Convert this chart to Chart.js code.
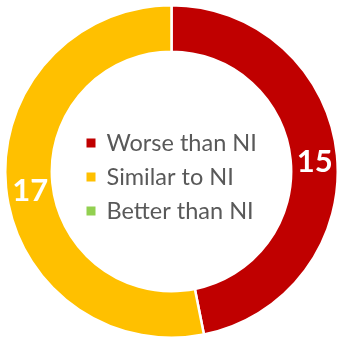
<!DOCTYPE html>
<html><head><meta charset="utf-8">
<script src="https://cdn.jsdelivr.net/npm/chart.js@4/dist/chart.umd.min.js"></script>
<style>html,body{margin:0;padding:0;background:#fff;}#wrap{width:339px;height:343px;position:relative;}</style>
</head><body><div id="wrap"><canvas id="c"></canvas></div>
<script>
const categories = ["Worse than NI", "Similar to NI", "Better than NI"];
const values = [15, 17, 0];
const colors = ["#C00000", "#FFC000", "#92D050"];

const centerLegend = {
  id: 'centerLegend',
  afterDraw(chart) {
    const ctx = chart.ctx;
    const meta = chart.getDatasetMeta(0);
    const arc0 = meta.data[0];
    const cx = arc0.x, cy = arc0.y;
    ctx.save();
    ctx.font = '23.5px Lato, "Open Sans", sans-serif';
    ctx.textBaseline = 'middle';
    ctx.textAlign = 'left';
    const rowH = 34;
    const startY = cy - 29;
    categories.forEach((c, i) => {
      const y = startY + i * rowH;
      ctx.fillStyle = colors[i];
      ctx.fillRect(cx - 85, y - 4, 9, 9);
      ctx.fillStyle = '#595959';
      ctx.fillText(c, cx - 65, y + 1);
    });
    // value labels
    ctx.font = 'bold 31px Lato, "Open Sans", sans-serif';
    ctx.textAlign = 'center';
    ctx.fillStyle = '#FFFFFF';
    meta.data.forEach((arc, i) => {
      if (!values[i]) return;
      const p = arc.tooltipPosition();
      ctx.fillText(String(values[i]), p.x + 1, p.y + 5);
    });
    ctx.restore();
  }
};

new Chart(document.getElementById('c'), {
  type: 'doughnut',
  data: {
    labels: categories,
    datasets: [{
      data: values,
      backgroundColor: colors,
      borderColor: '#FFFFFF',
      borderWidth: 2.5
    }]
  },
  options: {
    responsive: true,
    maintainAspectRatio: false,
    animation: false,
    cutout: '72%',
    layout: { padding: { left: 4, right: 0, top: 2, bottom: 2 } },
    plugins: { legend: { display: false }, tooltip: { enabled: false } }
  },
  plugins: [centerLegend]
});
</script></body></html>
